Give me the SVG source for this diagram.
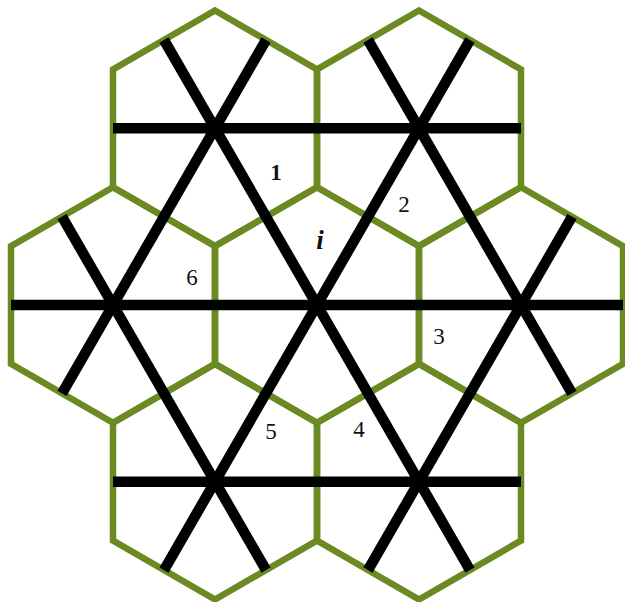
<svg xmlns="http://www.w3.org/2000/svg" width="625" height="602" viewBox="0 0 625 602">
<defs>
<style>
.hex{fill:none;stroke:#6b8b22;stroke-width:6.5;stroke-linejoin:miter}
.ln{stroke:#000;stroke-width:10.5;stroke-linecap:butt}
</style>
<polygon id="hx" points="0,-117.8 102,-58.9 102,58.9 0,117.8 -102,58.9 -102,-58.9"/>
</defs>
<rect width="625" height="602" fill="#fff"/>
<g id="hexes">
<g id="hex-tl"><use href="#hx" class="hex" x="215" y="128.3"/></g>
<g id="hex-tr"><use href="#hx" class="hex" x="419" y="128.3"/></g>
<g id="hex-l"><use href="#hx" class="hex" x="113" y="305"/></g>
<g id="hex-c"><use href="#hx" class="hex" x="317" y="305"/></g>
<g id="hex-r"><use href="#hx" class="hex" x="521" y="305"/></g>
<g id="hex-bl"><use href="#hx" class="hex" x="215" y="481.7"/></g>
<g id="hex-br"><use href="#hx" class="hex" x="419" y="481.7"/></g>
</g>
<g id="connectors">
<line class="ln" x1="113" y1="128.3" x2="521" y2="128.3"/>
<line class="ln" x1="11" y1="305" x2="623" y2="305"/>
<line class="ln" x1="113" y1="481.7" x2="521" y2="481.7"/>
<line class="ln" x1="164" y1="40" x2="470" y2="570"/>
<line class="ln" x1="62" y1="216.7" x2="266" y2="570"/>
<line class="ln" x1="368" y1="40" x2="572" y2="393.3"/>
<line class="ln" x1="470" y1="40" x2="164" y2="570"/>
<line class="ln" x1="266" y1="40" x2="62" y2="393.3"/>
<line class="ln" x1="572" y1="216.7" x2="368" y2="570"/>
</g>
<g id="labels" font-family="Liberation Serif, serif" font-size="23" fill="#111" text-anchor="middle">
<text x="276" y="180" font-weight="bold">1</text>
<text x="404" y="212">2</text>
<text x="320" y="249" font-weight="bold" font-style="italic" font-size="27">i</text>
<text x="192" y="285">6</text>
<text x="439" y="344">3</text>
<text x="271" y="439">5</text>
<text x="359" y="437">4</text>
</g>
</svg>
